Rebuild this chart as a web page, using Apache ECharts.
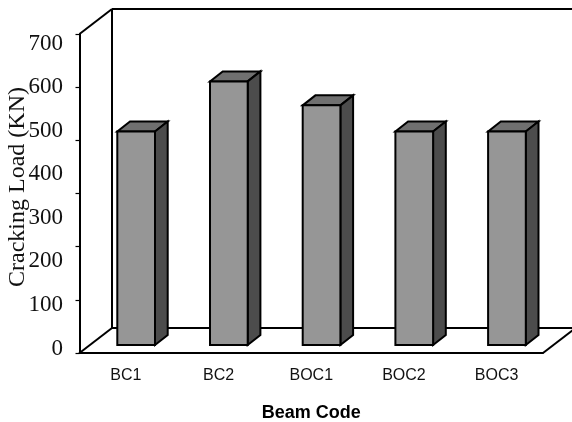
<!DOCTYPE html>
<html>
<head>
<meta charset="utf-8">
<style>html,body{margin:0;padding:0;background:#fff}#c{width:572px;height:422px}</style>
<script src="https://cdn.jsdelivr.net/npm/echarts@6/dist/echarts.min.js"></script>
</head>
<body>
<div id="c"></div>
<script>
// Cracking load per beam, drawn as pseudo-3D columns on a cartesian grid
const beamCodes = ['BC1', 'BC2', 'BOC1', 'BOC2', 'BOC3'];
const crackingLoad = [490, 605, 550, 490, 490];
const labelMax = 700;    // range of the numbered value scale
const tickMax = 600;     // range of the ticked axis line, which has one interval fewer
const axisStep = 100;

const ink = '#000';
const stroke = 2;
const wallDepth = [32.5, -25];   // front of the box to its back wall
const floorInset = [10.3, -3.5]; // value-scale position to the column front
const columnDepth = [12.7, -10];
const columnWidth = 37.7;

function poly(points, fill) {
  return {
    type: 'polygon',
    shape: { points },
    style: { fill, stroke: ink, lineWidth: stroke, lineJoin: 'miter' }
  };
}
function line(a, b) {
  return {
    type: 'line',
    shape: { x1: a[0], y1: a[1], x2: b[0], y2: b[1] },
    style: { stroke: ink, lineWidth: stroke, fill: null }
  };
}

// Back wall and floor edges of the box
function renderBox(params, api) {
  const band = api.size([1, 0])[0];
  const o = api.coord([0, 0]);
  const top = api.coord([0, tickMax]);
  const x0 = o[0] - band / 2;
  const x1 = x0 + band * beamCodes.length;
  const y0 = o[1];
  const y1 = top[1];
  const dx = wallDepth[0], dy = wallDepth[1];
  return {
    type: 'group',
    children: [
      line([x0, y0], [x0 + dx, y0 + dy]),
      line([x0, y1], [x0 + dx, y1 + dy]),
      line([x0 + dx, y0 + dy], [x0 + dx, y1 + dy]),
      line([x0 + dx, y0 + dy], [x1 + dx, y0 + dy]),
      line([x0 + dx, y1 + dy], [x1 + dx, y1 + dy]),
      line([x1, y0], [x1 + dx, y0 + dy])
    ]
  };
}

// One column: front face, top face and right side face
function renderColumn(params, api) {
  const i = api.value(0);
  const v = api.value(1);
  const head = api.coord([i, v]);
  const foot = api.coord([i, 0]);
  const cx = head[0] + floorInset[0];
  const l = cx - columnWidth / 2;
  const r = cx + columnWidth / 2;
  const t = head[1] + floorInset[1];
  const b = foot[1] + floorInset[1];
  const dx = columnDepth[0], dy = columnDepth[1];
  return {
    type: 'group',
    children: [
      poly([[l, t], [r, t], [r + dx, t + dy], [l + dx, t + dy]], '#707070'),
      poly([[r, t], [r + dx, t + dy], [r + dx, b + dy], [r, b]], '#4c4c4c'),
      poly([[l, t], [r, t], [r, b], [l, b]], '#969696')
    ]
  };
}

const chart = echarts.init(document.getElementById('c'), null, { renderer: 'canvas' });
chart.setOption({
  animation: false,
  backgroundColor: '#fff',
  grid: [
    { left: 79.5, right: 29, top: 34, bottom: 69, outerBoundsMode: 'none' },
    // the numbered scale shares the box's width but has its own, tighter height
    { left: 79.5, right: 29, top: 43.5, bottom: 73.5, outerBoundsMode: 'none' }
  ],
  xAxis: [
    {
      type: 'category',
      gridIndex: 0,
      data: beamCodes,
      axisLine: { lineStyle: { color: ink, width: stroke } },
      axisTick: { length: 4, lineStyle: { color: ink, width: 1.2 } },
      axisLabel: {
        color: '#111',
        fontFamily: '"Liberation Sans"',
        fontSize: 16,
        margin: 15
      },
      name: 'Beam Code',
      nameLocation: 'middle',
      nameGap: 51,
      nameTextStyle: {
        color: '#000',
        fontFamily: '"Liberation Sans"',
        fontWeight: 'bold',
        fontSize: 18
      }
    },
    { type: 'category', gridIndex: 1, show: false, data: beamCodes }
  ],
  yAxis: [
    {
      type: 'value',
      gridIndex: 0,
      min: 0,
      max: tickMax,
      interval: axisStep,
      splitLine: { show: false },
      axisLine: { show: true, lineStyle: { color: ink, width: stroke } },
      axisTick: { show: true, length: 4, lineStyle: { color: ink, width: 1.2 } },
      axisLabel: { show: false }
    },
    {
      type: 'value',
      gridIndex: 1,
      min: 0,
      max: labelMax,
      interval: axisStep,
      splitLine: { show: false },
      axisLine: { show: false },
      axisTick: { show: false },
      axisLabel: {
        color: '#111',
        fontFamily: '"Liberation Serif"',
        fontSize: 23,
        margin: 16.5
      }
    }
  ],
  series: [
    {
      type: 'custom',
      name: 'box',
      xAxisIndex: 0,
      yAxisIndex: 0,
      clip: false,
      z: 1,
      renderItem: renderBox,
      data: [[0, 0]],
      silent: true
    },
    {
      type: 'custom',
      name: 'Cracking Load',
      xAxisIndex: 1,
      yAxisIndex: 1,
      clip: false,
      z: 2,
      renderItem: renderColumn,
      encode: { x: 0, y: 1 },
      data: crackingLoad.map((v, i) => [i, v])
    }
  ],
  graphic: [
    {
      type: 'text',
      x: 18,
      y: 187,
      rotation: Math.PI / 2,
      z: 10,
      style: {
        text: 'Cracking Load (KN)',
        fill: '#111',
        font: '24px "Liberation Serif"',
        align: 'center',
        verticalAlign: 'middle'
      }
    }
  ]
});
</script>
</body>
</html>
